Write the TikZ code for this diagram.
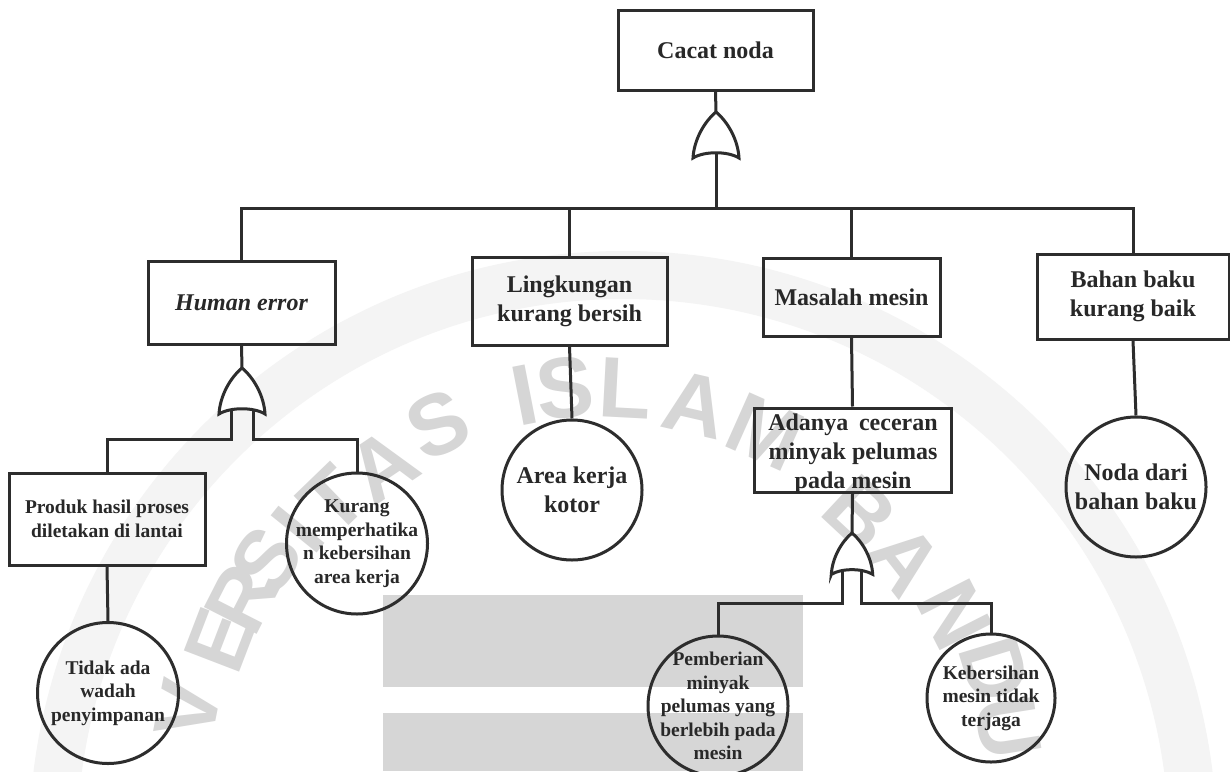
\documentclass[tikz,border=0pt]{standalone}
\usepackage{fontspec}
\setmainfont{Liberation Serif}
\newfontfamily\wmfont{Liberation Sans}
\definecolor{txt}{RGB}{40,40,40}
\definecolor{ink}{RGB}{45,45,45}
\definecolor{wmgray}{RGB}{214,214,214}
\definecolor{ringgray}{RGB}{244,244,244}
\tikzset{
  conn/.style={draw=ink, line width=3pt},
  box/.style={rectangle, draw=ink, line width=3pt, inner sep=0pt},
  ev/.style={circle, draw=ink, line width=3pt, inner sep=0pt, minimum size=140pt},
  big/.style={font=\fontsize{24}{29}\selectfont\bfseries, text=txt, align=center},
  small/.style={font=\fontsize{19.5}{23.5}\selectfont\bfseries, text=txt, align=center},
  wm/.style={font=\wmfont\bfseries\fontsize{86}{86}\selectfont, text=wmgray, inner sep=0pt},
  orgate/.pic={
    \draw[conn, fill=white] (-23,46) .. controls (-22,28) and (-12,10) .. (0,0)
      .. controls (12,10) and (22,28) .. (23,46)
      .. controls (12,39) and (-12,39) .. cycle;
    \coordinate (-tip) at (0,0);
    \coordinate (-c) at (0,41);
    \coordinate (-l) at (-11,42);
    \coordinate (-r) at (11,42);
  }
}
\begin{document}
\begin{tikzpicture}[x=1pt, y=-1pt]
\useasboundingbox (0,0) rectangle (1230,771);
\clip (0,0) rectangle (1230,771);
\fill[white] (0,0) rectangle (1230,771);

% faint seal in the background
\draw[ringgray, line width=48pt] (623,845) circle (570pt);
\fill[wmgray] (383,595) rectangle (803,687);
\fill[wmgray] (383,713) rectangle (803,771);
\foreach \x/\y/\r/\ch [count=\i] in {
  188/710/79/V, 220/640/69/E, 242/598/63/R, 266/560/57/S, 298/530/51/I,
  333/500/44/T, 383/466/34/A, 438/425/25/S,
  525/395/11/I, 565/388/6/S, 625/388/-3/L, 695/405/-13/A, 765/432/-24/M,
  860/513/-43/B, 905/560/-52/A, 955/615/-63/N, 995/670/-73/D, 1008/728/-81/U}
  \node[wm, rotate=\r] (wm-\i) at (\x,\y) {\ch};

% events
\node[box, minimum width=195, minimum height=80, label={[big]center:Cacat noda}] (top) at (715.5,50) {};
\node[box, minimum width=187, minimum height=83, label={[big]center:{\itshape Human error}}] (human) at (241.5,302.5) {};
\node[box, minimum width=195, minimum height=88, label={[big]center:Lingkungan\\kurang bersih}] (ling) at (569.5,301) {};
\node[box, minimum width=177, minimum height=78, label={[big]center:Masalah mesin}] (mas) at (851.5,297) {};
\node[box, minimum width=192, minimum height=85, label={[big]center:Bahan baku\\kurang baik}] (bahan) at (1133,296.5) {};
\node[box, minimum width=197, minimum height=84] (adanya) at (852.5,450) {};
\node[big] (adanyatxt) at (853,454) {Adanya\hspace{0.45em}ceceran\\minyak pelumas\\pada mesin};
\node[box, minimum width=196, minimum height=92, label={[small]center:Produk hasil proses\\diletakan di lantai}] (produk) at (107,519) {};

% basic events
\node[ev, label={[big]center:Area kerja\\kotor}] (area) at (572,490) {};
\node[ev, label={[big]center:Noda dari\\bahan baku}] (noda) at (1136,487) {};
\node[ev, minimum size=141pt, label={[small]center:Kurang\\memperhatika\\n kebersihan\\area kerja}] (kurang) at (357,543.5) {};
\node[ev, minimum size=141pt, label={[small]center:Tidak ada\\wadah\\penyimpanan}] (tidak) at (108,693) {};
\node[ev, label={[small]center:Pemberian\\minyak\\pelumas yang\\berlebih pada\\mesin}] (pember) at (718,706) {};
\node[ev, minimum size=128pt, label={[small]center:Kebersihan\\mesin tidak\\terjaga}] (keber) at (991,698) {};

% OR gates
\pic (g0) at (716,112) {orgate};
\pic (g1) at (242,368) {orgate};
\pic[scale=0.9] (g2) at (852,533) {orgate};

\coordinate (bus) at (716,208);
\coordinate (j1) at (0,439);
\coordinate (j2) at (0,603);

% connectors
\draw[conn] (top.south) -- (g0-tip);
\draw[conn] (g0-c) -- (bus);
\draw[conn] (human.north) |- (bus) -| (bahan.north);
\draw[conn] (ling.north) -- (ling.north |- bus);
\draw[conn] (mas.north) -- (mas.north |- bus);

\draw[conn] (human.south) -- (g1-tip);
\draw[conn] (g1-l) -- (g1-l |- j1) -| (produk.north);
\draw[conn] (g1-r) -- (g1-r |- j1) -| (kurang.north);
\draw[conn] (produk.south) -- (tidak.north);

\draw[conn] (ling.south) -- (area.north);
\draw[conn] (bahan.south) -- (noda.north);

\draw[conn] (mas.south) -- (adanya.north);
\draw[conn] (adanya.south) -- (g2-tip);
\draw[conn] (g2-l) -- (g2-l |- j2) -| (pember.north);
\draw[conn] (g2-r) -- (g2-r |- j2) -| (keber.north);
\end{tikzpicture}
\end{document}
